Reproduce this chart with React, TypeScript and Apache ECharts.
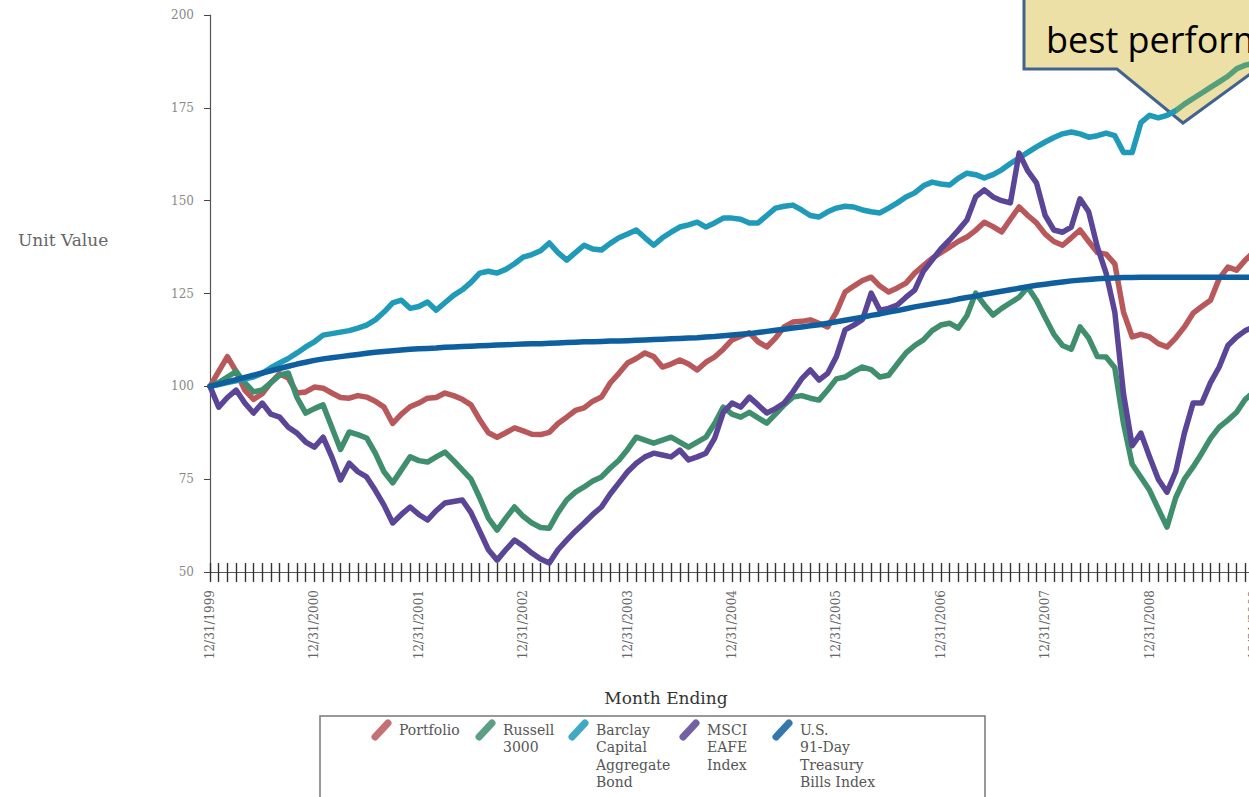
import React, { useEffect, useRef } from "react";
import * as echarts from "echarts";

// Monthly unit values, 12/31/1999 onward (index 0 = 12/31/1999)
const portfolio = [
  100, 104, 108, 104, 99, 96.5, 98, 101, 103.4, 102.2,
  98.2, 98.5, 99.8, 99.5, 98.2, 97, 96.8, 97.5, 97.1, 96,
  94.4, 90, 92.5, 94.5, 95.5, 96.8, 97, 98.2, 97.5, 96.5,
  95, 91, 87.5, 86.3, 87.5, 88.8, 88, 87.1, 87, 87.6,
  90, 91.7, 93.5, 94.2, 96, 97.1, 100.9, 103.5, 106.3, 107.5,
  109, 108, 105.2, 106, 107.1, 106, 104.4, 106.5, 107.9, 110,
  112.5, 113.5, 114.4, 112, 110.6, 113, 116, 117.3, 117.5, 117.9,
  117, 116, 120, 125.4, 127, 128.5, 129.4, 127, 125.4, 126.5,
  127.8, 130.5, 132.5, 134.5, 136, 137.5, 139, 140.2, 142, 144.2,
  143, 141.6, 145, 148.3, 146, 144, 141, 139, 138, 140,
  142.1, 139, 136, 135.6, 133, 120, 113.3, 114, 113.3, 111.5,
  110.6, 113, 116, 119.7, 121.5, 123.2, 129, 132.1, 131.3, 134,
  136.2,
];

const russell3000 = [
  100, 101, 102.5, 104, 101, 98.5, 99, 101, 103, 103.6,
  97, 92.8, 94, 95, 89, 83, 87.7, 87, 86.1, 82,
  77, 74, 77.5, 81, 80, 79.6, 81, 82.3, 80, 77.5,
  75, 70, 64.5, 61.3, 64.5, 67.5, 65, 63.2, 62, 61.8,
  66, 69.4, 71.5, 72.9, 74.5, 75.6, 78, 80.1, 83, 86.3,
  85.5, 84.7, 85.5, 86.3, 85, 83.6, 85, 86.3, 90, 94.4,
  92.5, 91.7, 93, 91.5, 90.1, 92.5, 95, 97.1, 97.5, 96.8,
  96.3, 99, 102, 102.5, 104, 105.2, 104.5, 102.5, 103, 106,
  109, 111, 112.5, 115, 116.5, 117, 115.7, 119, 125.1, 122,
  119.2, 121, 122.5, 124, 126.7, 123.2, 118.5, 114, 111, 110,
  116, 113, 108, 107.9, 105, 90, 79, 75.5, 72, 67,
  62.1, 70, 75, 78.3, 82, 86, 89, 90.9, 93, 96.5,
  98.5,
];

const barclayAgg = [
  100, 100.5, 101, 101.5, 102, 102.5, 103.5, 105, 106.3, 107.5,
  109, 110.6, 112, 113.8, 114.2, 114.6, 115, 115.7, 116.5, 117.9,
  120, 122.5, 123.2, 121, 121.5, 122.7, 120.5, 122.5, 124.5, 126,
  128, 130.5, 131, 130.5, 131.5, 133, 134.8, 135.5, 136.5, 138.6,
  136, 134, 136, 138, 137, 136.7, 138.5, 140, 141, 142.1,
  140, 138, 140, 141.5, 142.9, 143.5, 144.2, 142.9, 144, 145.3,
  145.3, 145, 144, 144, 146, 148, 148.5, 148.8, 147.5, 146,
  145.6, 147, 148, 148.5, 148.3, 147.5, 147, 146.7, 148, 149.4,
  151, 152.1, 154, 155, 154.5, 154.2, 156, 157.4, 157, 156.1,
  157, 158.3, 160, 161.5, 163, 164.5, 165.8, 167, 168, 168.5,
  168, 167.1, 167.5, 168.2, 167.5, 163, 163, 171, 173, 172.3,
  173, 174.2, 176, 177.5, 179, 180.5, 182, 183.5, 185.5, 186.5,
  187,
];

const msciEafe = [
  100, 94.4, 97, 99, 95.5, 92.8, 95.5, 92.5, 91.7, 89,
  87.4, 85, 83.6, 86.3, 81, 74.8, 79.3, 77, 75.6, 72,
  68, 63.2, 65.5, 67.5, 65.5, 64, 66.5, 68.6, 69, 69.4,
  66, 61, 56, 53.2, 56, 58.6, 57, 55.1, 53.5, 52.4,
  56, 58.6, 61, 63.2, 65.5, 67.5, 71, 74, 77, 79.3,
  81, 82, 81.5, 81, 82.8, 80.2, 81, 82, 86, 93,
  95.5, 94.4, 97.1, 95, 92.8, 94, 95.5, 98.5, 102, 104.4,
  101.7, 103.5, 108, 115.2, 116.5, 118, 125.1, 120.5, 121, 121.9,
  124, 125.9, 131, 134, 137, 139.4, 142, 144.8, 151, 152.9,
  151, 150, 149.4, 162.8, 158, 154.8, 146, 142.1, 141.5, 142.9,
  150.5, 147, 137.5, 130.5, 120, 98, 84, 87.4, 81, 75,
  71.5, 77, 87.4, 95.5, 95.5, 101, 105.2, 111, 113.3, 115,
  116,
];

const tBills = [
  100, 100.6, 101.2, 101.8, 102.4, 103, 103.6, 104.2, 104.8, 105.4, 106, 106.5,
  107, 107.4, 107.7, 108, 108.3, 108.6, 108.9, 109.2, 109.4, 109.6, 109.8, 110,
  110.1, 110.2, 110.3, 110.5, 110.6, 110.7, 110.8, 110.9, 111, 111.1, 111.2, 111.3,
  111.4, 111.5, 111.5, 111.6, 111.7, 111.8, 111.9, 112, 112, 112.1, 112.2, 112.2,
  112.3, 112.4, 112.5, 112.6, 112.7, 112.8, 112.9, 113, 113.1, 113.3, 113.4, 113.6,
  113.8, 114, 114.2, 114.5, 114.8, 115.1, 115.4, 115.7, 116, 116.3, 116.6, 117,
  117.4, 117.8, 118.2, 118.6, 119.1, 119.5, 120, 120.4, 120.9, 121.4, 121.8, 122.2,
  122.6, 123, 123.5, 123.9, 124.3, 124.8, 125.2, 125.6, 126, 126.4, 126.8, 127.2,
  127.5, 127.8, 128.1, 128.4, 128.6, 128.8, 129, 129.1, 129.2, 129.3, 129.3, 129.4,
  129.4, 129.4, 129.4, 129.4, 129.4, 129.4, 129.4, 129.4, 129.4, 129.4, 129.4, 129.4, 129.4,
];

const seriesNames = [
  "Portfolio",
  "Russell 3000",
  "Barclay Capital Aggregate Bond",
  "MSCI EAFE Index",
  "U.S. 91-Day Treasury Bills Index",
];
const legendLabels = [
  "Portfolio",
  "Russell\n3000",
  "Barclay\nCapital\nAggregate\nBond",
  "MSCI\nEAFE\nIndex",
  "U.S.\n91-Day\nTreasury\nBills Index",
];
const seriesColors = ["#b9585b", "#3f8e6e", "#1f9ab8", "#5b4597", "#0f5f9f"];
const highlightedColor = "#55a07a";

const yTicks = { min: 50, max: 200, step: 25 };
const axisTitleY = "Unit Value";
const axisTitleX = "Month Ending";
const calloutText = "best performer";

// Month-end category labels, 12/31/1999 .. 12/31/2010
const months: string[] = (() => {
  const out: string[] = [];
  for (let k = 0; k <= 132; k++) {
    const m = (11 + k) % 12;
    const y = 1999 + Math.floor((11 + k) / 12);
    const d = new Date(y, m + 1, 0).getDate();
    out.push(`${m + 1}/${d}/${y}`);
  }
  return out;
})();

const serif = "'DejaVu Serif', 'Liberation Serif', serif";

export default function App() {
  const ref = useRef<HTMLDivElement>(null);

  useEffect(() => {
    if (!ref.current) return;
    const chart = echarts.init(ref.current, null, { renderer: "svg" });
    const data = [portfolio, russell3000, barclayAgg, msciEafe, tBills];

    const legendTextX = [399, 503, 596, 707, 800];
    const legendGraphics: any[] = [];
    legendLabels.forEach((lab, i) => {
      const tx = legendTextX[i];
      legendGraphics.push({
        type: "line",
        z: 10,
        shape: { x1: tx - 24, y1: 737, x2: tx - 11, y2: 723 },
        style: { stroke: seriesColors[i], lineWidth: 7, lineCap: "round", opacity: 0.85 },
      });
      legendGraphics.push({
        type: "text",
        z: 10,
        x: tx,
        y: 721,
        style: {
          text: lab,
          fontFamily: serif,
          fontSize: 14,
          lineHeight: 17.5,
          fill: "#555",
          textAlign: "left",
          textVerticalAlign: "top",
        },
      });
    });

    const option: any = {
      animation: false,
      backgroundColor: "#ffffff",
      grid: { left: 210, top: 15, width: 1148.4, height: 557 },
      xAxis: [
        {
          type: "category",
          data: months,
          boundaryGap: false,
          axisLine: { lineStyle: { color: "#555", width: 1.2 } },
          axisTick: { show: true, interval: 0, length: 10, lineStyle: { color: "#333", width: 1.4 } },
          axisLabel: {
            interval: 11,
            rotate: 90,
            margin: 18,
            fontFamily: serif,
            fontSize: 12,
            color: "#666",
          },
          splitLine: { show: false },
        },
        {
          type: "category",
          data: months,
          boundaryGap: false,
          position: "bottom",
          axisLine: { show: false },
          axisTick: { show: true, inside: true, interval: 0, length: 9, lineStyle: { color: "#333", width: 1.4 } },
          axisLabel: { show: false },
          splitLine: { show: false },
        },
      ],
      yAxis: {
        type: "value",
        min: yTicks.min,
        max: yTicks.max,
        interval: yTicks.step,
        axisLine: { show: true, lineStyle: { color: "#555", width: 1.2 } },
        axisTick: { show: true, length: 6, lineStyle: { color: "#444" } },
        axisLabel: { margin: 16, fontFamily: serif, fontSize: 12, color: "#888" },
        splitLine: { show: false },
      },
      visualMap: {
        show: false,
        type: "piecewise",
        seriesIndex: 2,
        dimension: 0,
        pieces: [
          { gte: 0, lt: 110.6, color: seriesColors[2] },
          { gte: 110.6, lte: 132, color: highlightedColor },
        ],
      },
      series: data.map((d, i) => ({
        name: seriesNames[i],
        type: "line",
        data: d,
        xAxisIndex: 0,
        showSymbol: false,
        symbol: "none",
        z: 3 + i,
        itemStyle: { color: seriesColors[i] },
        lineStyle:
          i === 2
            ? { width: 5.5, join: "round", cap: "round" }
            : { width: 5.5, color: seriesColors[i], join: "round", cap: "round" },
      })),
      graphic: [
        {
          type: "polygon",
          z: 1,
          shape: {
            points: [
              [1024, -10],
              [1024, 69],
              [1117, 69],
              [1183, 123],
              [1257, 69],
              [1400, 69],
              [1400, -10],
            ],
          },
          style: { fill: "#ece0a6", stroke: "#41638f", lineWidth: 3, lineJoin: "miter" },
        },
        {
          type: "text",
          z: 1,
          x: 1046,
          y: 39,
          style: {
            text: calloutText,
            fontFamily: "'Open Sans', sans-serif",
            fontSize: 36,
            fill: "#000",
            textAlign: "left",
            textVerticalAlign: "middle",
          },
        },
        {
          type: "text",
          x: 18,
          y: 240,
          style: {
            text: axisTitleY,
            fontFamily: serif,
            fontSize: 17,
            fill: "#666",
            textAlign: "left",
            textVerticalAlign: "middle",
          },
        },
        {
          type: "text",
          x: 666,
          y: 698,
          style: {
            text: axisTitleX,
            fontFamily: serif,
            fontSize: 17,
            fill: "#333",
            textAlign: "center",
            textVerticalAlign: "middle",
          },
        },
        {
          type: "rect",
          z: 9,
          shape: { x: 320, y: 716, width: 665, height: 120 },
          style: { fill: "none", stroke: "#777", lineWidth: 1.5 },
        },
        ...legendGraphics,
      ],
    };
    chart.setOption(option);
    return () => chart.dispose();
  }, []);

  return (
    <div
      style={{
        position: "fixed",
        left: 0,
        top: 0,
        width: 1249,
        height: 797,
        overflow: "hidden",
        background: "#fff",
      }}
    >
      <div ref={ref} style={{ width: 1400, height: 797 }} />
    </div>
  );
}
